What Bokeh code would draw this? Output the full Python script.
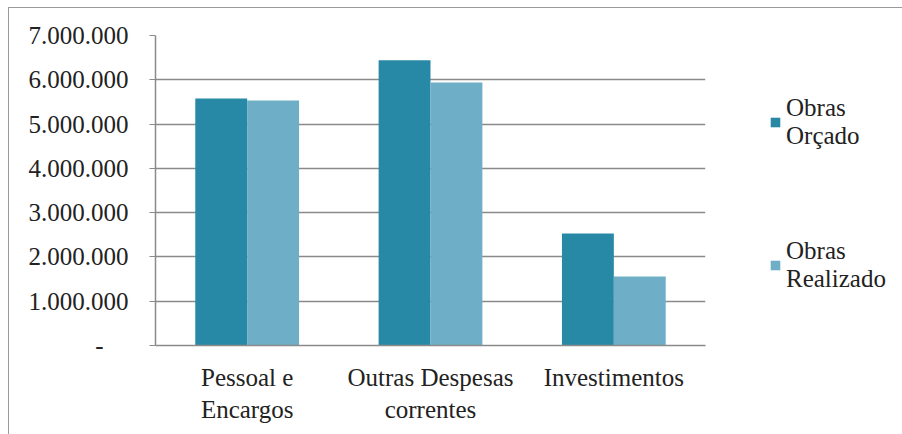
from bokeh.plotting import figure
from bokeh.layouts import row
from bokeh.models import FactorRange, Legend, LegendItem, FixedTicker, ColumnDataSource
from bokeh.transform import dodge
from bokeh.embed import file_html
from bokeh.resources import INLINE

categories = ["Pessoal e\nEncargos", "Outras Despesas\ncorrentes", "Investimentos"]
orcado = [5580000, 6440000, 2530000]
realizado = [5530000, 5940000, 1560000]
series_names = ["Obras\nOrçado", "Obras\nRealizado"]
series_colors = ["#2789a6", "#6eaec6"]
y_ticks = [0, 1000000, 2000000, 3000000, 4000000, 5000000, 6000000, 7000000]
y_tick_labels = ["-\u00a0\u00a0\u00a0\u00a0", "1.000.000", "2.000.000", "3.000.000", "4.000.000",
                 "5.000.000", "6.000.000", "7.000.000"]

FONT = "'Liberation Serif', 'DejaVu Serif', serif"
FS = "25px"
src = ColumnDataSource(dict(cat=categories, orcado=orcado, realizado=realizado))

p = figure(x_range=FactorRange(*categories), y_range=(0, 7000000),
           width=697, height=426, output_backend="svg", toolbar_location=None,
           min_border_left=146, min_border_right=1, min_border_top=27, min_border_bottom=89)

r1 = p.vbar(x=dodge("cat", -0.1415, range=p.x_range), top="orcado", width=0.283, bottom=0,
            source=src, fill_color=series_colors[0], line_color=None)
r2 = p.vbar(x=dodge("cat", 0.1415, range=p.x_range), top="realizado", width=0.283, bottom=0,
            source=src, fill_color=series_colors[1], line_color=None)

p.outline_line_color = None
p.xgrid.grid_line_color = None
p.ygrid.grid_line_color = "#8a8a8a"
p.ygrid.grid_line_width = 1.5
p.ygrid.ticker = FixedTicker(ticks=y_ticks)

p.yaxis.ticker = FixedTicker(ticks=y_ticks)
p.yaxis.major_label_overrides = {t: l for t, l in zip(y_ticks, y_tick_labels)}
p.yaxis.minor_tick_line_color = None
p.yaxis.major_tick_in = 0
p.yaxis.major_tick_out = 6
p.yaxis.axis_line_color = "#8a8a8a"
p.yaxis.axis_line_width = 1.5
p.yaxis.major_tick_line_color = "#8a8a8a"
p.yaxis.major_label_standoff = 21
p.yaxis.major_label_text_font = FONT
p.yaxis.major_label_text_font_size = FS
p.yaxis.major_label_text_color = "#222222"

p.xaxis.axis_line_color = "#8a8a8a"
p.xaxis.axis_line_width = 1.5
p.xaxis.major_tick_line_color = None
p.xaxis.major_label_standoff = 12
p.xaxis.major_label_text_font = FONT
p.xaxis.major_label_text_font_size = FS
p.xaxis.major_label_text_color = "#222222"

# legend panel (separate figure to the right of the plot, sharing the ranges)
lg = figure(width=196, height=426, output_backend="svg", toolbar_location=None,
            x_range=p.x_range, y_range=p.y_range, min_border=0,
            x_axis_location=None, y_axis_location=None)
lg.outline_line_color = None
lg.grid.grid_line_color = None
l1 = lg.vbar(x="cat", top="orcado", width=0.283, source=src,
             fill_color=series_colors[0], line_color=None, visible=False)
l2 = lg.vbar(x="cat", top="realizado", width=0.283, source=src,
             fill_color=series_colors[1], line_color=None, visible=False)

legend = Legend(items=[LegendItem(label=series_names[0], renderers=[l1]),
                       LegendItem(label=series_names[1], renderers=[l2])],
                location=(63, 52), orientation="vertical",
                label_text_font=FONT, label_text_font_size=FS, label_text_color="#222222",
                glyph_width=12, glyph_height=12, label_standoff=5, spacing=87,
                padding=0, margin=0, border_line_color=None, background_fill_alpha=0,
                inactive_fill_alpha=0)
lg.add_layout(legend, "center")

layout = row(p, lg, styles={"border-left": "1px solid #9a9a9a", "border-top": "1px solid #9a9a9a",
                            "margin-left": "8px", "margin-top": "7px"})

open("out.html", "w").write(file_html(layout, INLINE))
